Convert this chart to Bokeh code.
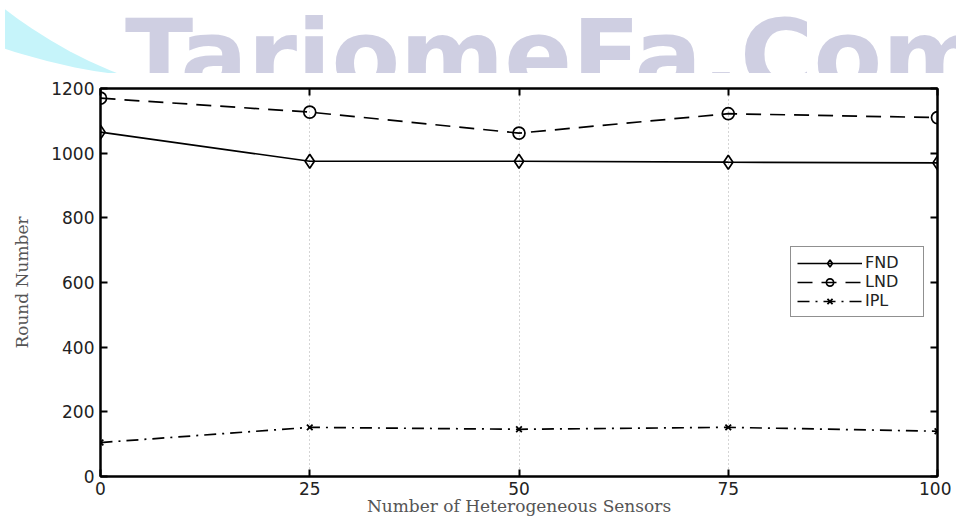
from bokeh.plotting import figure
from bokeh.models import LinearAxis, FixedTicker, Range1d, Div
from bokeh.layouts import column
from bokeh.embed import file_html
from bokeh.resources import INLINE

# ---- data ----
sensors = [0, 25, 50, 75, 100]
fnd = [1065, 975, 975, 972, 970]
lnd = [1170, 1127, 1062, 1122, 1110]
ipl = [105, 152, 146, 152, 140]
x_ticks = [0, 25, 50, 75, 100]
y_ticks = [0, 200, 400, 600, 800, 1000, 1200]
watermark = "TariomeFa.Com"

TICK_FONT = "DejaVu Sans"
LABEL_FONT = "DejaVu Serif"

wm = Div(
    text=(
        '<div style="position:relative;width:951px;height:68px;overflow:hidden;">'
        '<div style="position:absolute;left:-372px;top:-1025px;width:1098px;height:1098px;'
        'border-radius:50%;background:#c6f4fa;"></div>'
        '<div style="position:absolute;left:-172px;top:-796px;width:895px;height:895px;'
        'border-radius:50%;background:#ffffff;"></div>'
        '<div style="position:absolute;left:120px;top:-19px;font-family:\'DejaVu Sans\';'
        'font-weight:bold;font-size:100px;color:#cfcfe2;white-space:nowrap;">'
        + watermark + '</div></div>'
    ),
    width=951, height=68,
)

p = figure(width=951, height=442, output_backend="svg", toolbar_location=None,
           x_range=Range1d(0, 100), y_range=Range1d(0, 1200),
           min_border_left=100, min_border_right=14, min_border_top=10, min_border_bottom=44)

p.line(sensors, fnd, line_color="black", line_width=1.7, legend_label="FND")
p.scatter(sensors, fnd, marker="diamond", size=14, line_color="black", fill_color=None,
          line_width=1.7, legend_label="FND")
p.line(sensors, lnd, line_color="black", line_width=1.7, line_dash="15 9", legend_label="LND")
p.scatter(sensors, lnd, marker="circle", size=12, line_color="black", fill_color=None,
          line_width=1.7, legend_label="LND")
p.line(sensors, ipl, line_color="black", line_width=1.7, line_dash="12 6 2 6", legend_label="IPL")
p.scatter(sensors, ipl, marker="x", size=8, line_color="black", line_width=1.8, legend_label="IPL")

p.xaxis.ticker = FixedTicker(ticks=x_ticks)
p.yaxis.ticker = FixedTicker(ticks=y_ticks)

for ax in (p.xaxis[0], p.yaxis[0]):
    ax.major_label_text_font = TICK_FONT
    ax.major_label_text_font_size = "17px"
    ax.major_label_text_color = "#222222"
    ax.axis_line_width = 2
    ax.axis_line_color = "black"
    ax.major_tick_in = 7
    ax.major_tick_out = 0
    ax.major_tick_line_width = 2
    ax.minor_tick_line_color = None
    ax.axis_label_text_font = LABEL_FONT
    ax.axis_label_text_font_style = "normal"
    ax.axis_label_text_font_size = "17px"
    ax.axis_label_text_color = "#555555"

p.xaxis.major_label_standoff = 5
p.yaxis.major_label_standoff = 6
p.xaxis.axis_label = "Number of Heterogeneous Sensors"
p.yaxis.axis_label = "Round Number"
p.xaxis.axis_label_standoff = -2
p.yaxis.axis_label_standoff = 16

top_ax = LinearAxis(ticker=FixedTicker(ticks=x_ticks), major_label_text_font_size="0px",
                    major_tick_in=7, major_tick_out=0, major_tick_line_width=2,
                    axis_line_width=2, minor_tick_line_color=None)
right_ax = LinearAxis(ticker=FixedTicker(ticks=y_ticks), major_label_text_font_size="0px",
                      major_tick_in=7, major_tick_out=0, major_tick_line_width=2,
                      axis_line_width=2, minor_tick_line_color=None)
p.add_layout(top_ax, "above")
p.add_layout(right_ax, "right")

p.ygrid.grid_line_color = None
p.xgrid.grid_line_color = "#aaaaaa"
p.xgrid.grid_line_dash = "1 3"
p.xgrid.grid_line_width = 1

p.outline_line_color = "black"
p.outline_line_width = 2

lg = p.legend[0]
lg.location = (690, 159)
lg.border_line_color = "#222222"
lg.border_line_width = 1.8
lg.label_text_font = TICK_FONT
lg.label_text_font_size = "16px"
lg.label_text_color = "#222222"
lg.glyph_width = 65
lg.glyph_height = 18
lg.label_height = 18
lg.label_width = 52
lg.spacing = 0
lg.padding = 6
lg.margin = 0
lg.label_standoff = 3
lg.background_fill_alpha = 1

layout = column(wm, p, spacing=0)
open("out.html", "w").write(file_html(layout, INLINE))
